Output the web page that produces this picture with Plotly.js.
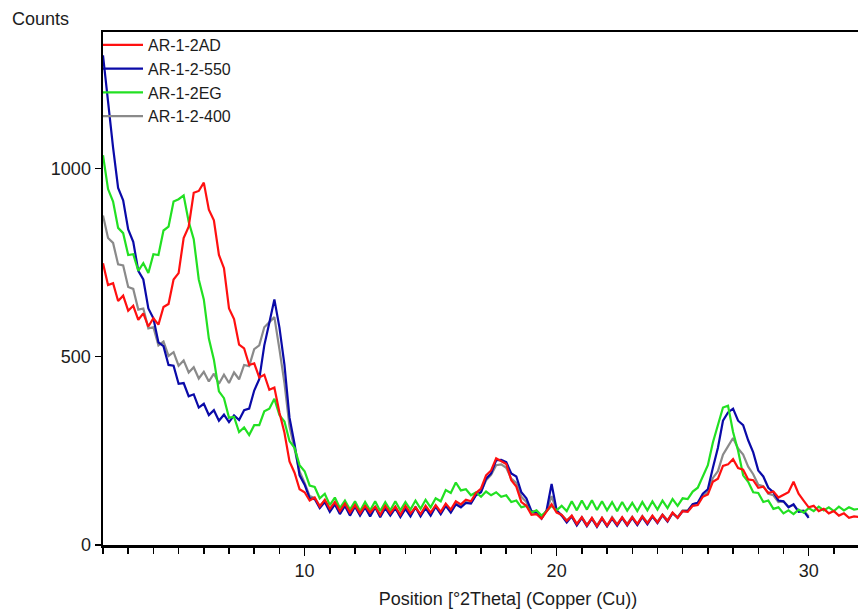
<!DOCTYPE html>
<html>
<head>
<meta charset="utf-8">
<script src="https://cdn.plot.ly/plotly-3.0.1.min.js"></script>
<style>
  html, body { margin: 0; padding: 0; background: #fff; overflow: hidden; width: 858px; height: 612px; }
  #chart { width: 913px; height: 612px; }
</style>
</head>
<body>
<div id="chart"></div>
<script>
// Scan grid (°2Theta): start and step of the measurement
const scanStart = 2.0;
const scanStep = 0.2;

const seriesNames = ["AR-1-2AD", "AR-1-2-550", "AR-1-2EG", "AR-1-2-400"];

// Counts, one value per scan step
const countsAD = [
  748,690,695,648,662,622,635,598,615,580,602,585,632,640,705,722,815,845,935,940,
  962,890,862,770,735,628,600,532,522,478,482,445,452,412,418,352,298,222,192,148,
  140,118,126,102,120,96,114,90,110,86,106,84,104,86,102,80,104,84,102,80,
  104,84,100,82,104,86,106,88,110,94,116,108,120,116,138,150,185,198,230,222,
  215,172,155,114,104,80,82,70,88,108,86,80,64,78,56,74,52,72,50,72,
  52,72,54,74,54,74,56,76,58,78,60,80,64,86,72,90,88,104,106,128,
  134,168,176,210,214,228,204,200,174,172,152,155,138,142,126,134,140,168,136,118,
  100,104,90,96,84,90,78,84,72,76,74
];
const counts550 = [
  1300,1170,1055,948,915,838,805,728,705,628,602,538,528,478,476,428,430,395,400,365,
  375,345,358,330,346,326,344,332,358,362,410,440,530,590,652,578,478,338,268,185,
  160,124,122,98,114,88,108,82,104,78,102,78,100,76,100,74,98,78,98,74,
  96,76,100,76,98,78,102,82,104,86,108,100,112,110,132,140,176,190,225,226,
  220,190,182,140,124,90,86,70,92,162,92,78,60,76,52,72,50,70,48,70,
  50,70,51,72,52,72,53,74,55,76,58,79,62,85,72,90,90,108,112,136,
  148,205,258,330,352,362,330,318,278,246,198,182,152,140,118,116,100,108,88,90,
  72
];
const countsEG = [
  1035,945,912,842,828,770,772,728,748,722,772,770,835,845,912,918,928,858,812,705,
  652,548,492,408,390,338,340,300,312,292,318,318,355,362,388,345,328,276,258,212,
  196,158,154,124,136,106,126,98,118,94,116,90,114,92,116,90,114,92,116,92,
  114,94,118,96,120,100,124,116,146,138,166,145,148,132,140,128,142,132,140,128,
  132,114,118,100,104,86,92,78,90,104,92,104,90,116,92,118,94,119,93,116,
  92,114,90,114,91,112,90,114,92,116,94,118,98,122,104,124,122,142,152,180,
  212,272,318,365,370,300,250,185,168,140,138,114,118,96,100,84,92,82,94,86,
  98,90,102,92,100,90,102,92,100,94,96
];
const counts400 = [
  875,815,802,745,742,685,680,625,628,575,578,530,540,502,512,476,490,458,472,442,
  460,434,455,428,452,430,458,440,478,475,520,530,578,592,605,520,430,315,255,195,
  165,130,125,104,118,90,110,84,106,80,104,80,102,78,102,78,100,80,100,76,
  100,78,102,78,100,80,104,84,106,88,110,104,114,112,134,142,172,186,212,214,
  205,176,165,128,114,86,84,72,90,130,90,80,66,76,54,74,54,70,52,72,
  50,74,55,72,56,75,54,77,59,76,62,81,66,84,74,92,92,108,112,130,
  140,178,196,240,262,284,256,240,208,188,160,156,136,132,114,116,102,106,90,92,
  76
];

const xTickLabels = ["10", "20", "30"];
const yTickLabels = ["0", "500", "1000"];

function scanPositions(n) {
  const out = [];
  for (let i = 0; i < n; i++) out.push(+(scanStart + i * scanStep).toFixed(2));
  return out;
}

const FONT = "Liberation Sans, Arial, sans-serif";
const TXT = "#1c1c1c";

function trace(name, y, color, rank) {
  return {
    type: "scatter", mode: "lines", name: name,
    x: scanPositions(y.length), y: y,
    line: { color: color, width: 2.2 },
    legendrank: rank
  };
}

// drawing order: gray, blue, green, red (red on top)
const data = [
  trace(seriesNames[3], counts400, "#8a8a8a", 4),
  trace(seriesNames[1], counts550, "#0a0aa8", 2),
  trace(seriesNames[2], countsEG, "#22e022", 3),
  trace(seriesNames[0], countsAD, "#ff1010", 1)
];

const layout = {
  width: 913, height: 612,
  margin: { l: 103, r: 0, t: 32, b: 67 },
  paper_bgcolor: "#fff", plot_bgcolor: "#fff",
  font: { family: FONT, size: 18, color: TXT },
  title: {
    text: "Counts", font: { family: FONT, size: 18, color: TXT },
    xref: "container", yref: "container",
    x: 12 / 913, xanchor: "left", y: 1 - 19 / 612, yanchor: "middle"
  },
  showlegend: true,
  legend: {
    x: -5 / 810, xanchor: "left", y: 1.008, yanchor: "top",
    bgcolor: "rgba(0,0,0,0)", borderwidth: 0,
    font: { family: FONT, size: 16, color: TXT },
    itemwidth: 40, tracegroupgap: 0
  },
  xaxis: {
    range: [2, 34.14],
    tickmode: "array", tickvals: xTickLabels.map(Number), ticktext: xTickLabels,
    ticks: "outside", ticklen: 8, tickwidth: 1.5, tickcolor: "#000",
    minor: { dtick: 1, tick0: 0, ticks: "outside", ticklen: 6, tickwidth: 1.5, tickcolor: "#000", showgrid: false },
    showline: true, linewidth: 2.5, linecolor: "#000", mirror: true,
    showgrid: false, zeroline: false,
    tickfont: { family: FONT, size: 18, color: TXT },
    title: { text: "Position [°2Theta] (Copper (Cu))", font: { family: FONT, size: 18, color: TXT }, standoff: 13 }
  },
  yaxis: {
    range: [0, 1362],
    tickmode: "array", tickvals: yTickLabels.map(Number), ticktext: yTickLabels,
    ticks: "outside", ticklen: 6, tickwidth: 1.5, tickcolor: "#000",
    showline: true, linewidth: 2.5, linecolor: "#000",
    showgrid: false, zeroline: false,
    tickfont: { family: FONT, size: 18, color: TXT }
  }
};

Plotly.newPlot("chart", data, layout, { staticPlot: true, displayModeBar: false });
</script>
</body>
</html>
